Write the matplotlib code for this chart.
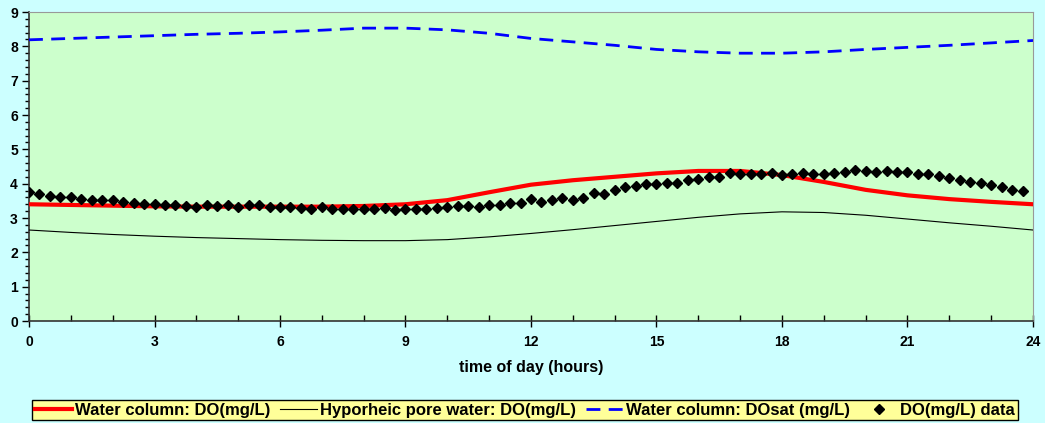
import matplotlib.pyplot as plt
import numpy as np
from matplotlib.ticker import MultipleLocator

plt.rcParams['font.family'] = ['Liberation Sans', 'DejaVu Sans']
plt.rcParams['font.weight'] = 'bold'

# model output, hourly
hours = np.arange(0, 25)
do_water = [3.40, 3.38, 3.36, 3.34, 3.33, 3.33, 3.33, 3.33, 3.35, 3.40, 3.52, 3.75,
            3.97, 4.10, 4.20, 4.30, 4.37, 4.37, 4.25, 4.05, 3.82, 3.66, 3.55, 3.47, 3.40]
do_pore = [2.65, 2.58, 2.52, 2.47, 2.43, 2.40, 2.37, 2.35, 2.34, 2.34, 2.37, 2.45,
           2.55, 2.66, 2.78, 2.90, 3.02, 3.12, 3.18, 3.16, 3.08, 2.97, 2.86, 2.76, 2.65]
do_sat = [8.19, 8.23, 8.27, 8.31, 8.35, 8.38, 8.42, 8.47, 8.53, 8.53, 8.48, 8.38,
          8.23, 8.13, 8.03, 7.91, 7.84, 7.80, 7.80, 7.84, 7.91, 7.97, 8.03, 8.10, 8.17]

# measured data, every 15 min
t_data = np.arange(0, 24, 0.25)
do_data = [3.75, 3.70, 3.64, 3.61, 3.60, 3.56, 3.53, 3.53, 3.53, 3.48, 3.43, 3.41,
           3.41, 3.37, 3.38, 3.35, 3.33, 3.37, 3.34, 3.37, 3.32, 3.37, 3.37, 3.32,
           3.33, 3.31, 3.30, 3.27, 3.31, 3.27, 3.26, 3.27, 3.26, 3.27, 3.28, 3.24,
           3.25, 3.26, 3.25, 3.29, 3.32, 3.36, 3.36, 3.32, 3.38, 3.39, 3.44,
           3.44, 3.56, 3.47, 3.52, 3.58, 3.53, 3.58, 3.73, 3.71, 3.82, 3.89, 3.94,
           3.98, 4.00, 4.01, 4.02, 4.10, 4.13, 4.18, 4.20, 4.30, 4.28, 4.29, 4.29,
           4.30, 4.24, 4.28, 4.30, 4.29, 4.28, 4.31, 4.34, 4.39, 4.37, 4.34, 4.37,
           4.35, 4.34, 4.29, 4.28, 4.21, 4.16, 4.12, 4.06, 4.01, 3.97, 3.91, 3.83, 3.78]

fig = plt.figure(figsize=(10.45, 4.23), dpi=100, facecolor='#CCFFFF')
ax = fig.add_axes([29/1045, 1 - 321/423, (1033 - 29)/1045, (321 - 12)/423])
ax.set_facecolor('#CCFFCC')

ax.plot(hours, do_water, color='#FF0000', lw=3, label='Water column: DO(mg/L)', zorder=4)
ax.plot(hours, do_pore, color='black', lw=0.8, label='Hyporheic pore water: DO(mg/L)', zorder=3)
ax.plot(hours, do_sat, color='#0000FF', lw=2, dashes=(5, 3),
        label='Water column: DOsat (mg/L)', zorder=3)
ax.plot(t_data, do_data, 'D', color='black', ms=5, label='DO(mg/L) data', zorder=5)

ax.set_xlim(0, 24)
ax.set_ylim(0, 9)
ax.xaxis.set_major_locator(MultipleLocator(3))
ax.xaxis.set_minor_locator(MultipleLocator(1))
ax.yaxis.set_major_locator(MultipleLocator(1))
ax.yaxis.set_minor_locator(MultipleLocator(0.2))
ax.tick_params(axis='x', which='major', direction='inout', length=8, width=1, labelsize=10, pad=6)
ax.tick_params(axis='x', which='minor', direction='in', length=4, width=1)
ax.tick_params(axis='y', which='major', direction='out', length=5, width=1, labelsize=10, pad=3)
ax.tick_params(axis='y', which='minor', direction='out', length=3, width=1)
for lbl in ax.get_xticklabels() + ax.get_yticklabels():
    lbl.set_fontweight('bold')

for side in ['top', 'right']:
    ax.spines[side].set_color('#999999')
for side in ['left', 'bottom']:
    ax.spines[side].set_color('#333333')
    ax.spines[side].set_linewidth(1.2)

ax.set_xlabel('time of day (hours)', fontsize=11.5, fontweight='bold', labelpad=8)

leg = fig.legend(loc='center', bbox_to_anchor=(525/1045, 1 - 410/423), ncol=4,
                 fontsize=12, frameon=True, fancybox=False, handlelength=2.2,
                 handletextpad=0.2, columnspacing=0.6, borderpad=0.15, borderaxespad=0)
leg.get_frame().set_facecolor('#FFFF99')
leg.get_frame().set_edgecolor('black')
leg.get_frame().set_alpha(1)
for txt in leg.get_texts():
    txt.set_fontweight('bold')

fig.savefig('out.png', dpi=100, facecolor=fig.get_facecolor())
